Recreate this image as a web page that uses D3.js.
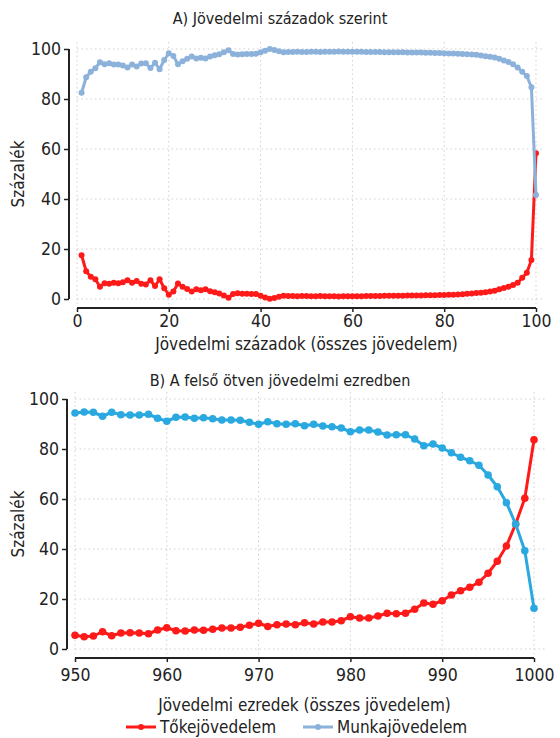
<!DOCTYPE html>
<html>
<head>
<meta charset="utf-8">
<script src="https://cdn.jsdelivr.net/npm/d3@7"></script>
<style>
  body { margin: 0; background: #fff; }
  svg text { font-family: "DejaVu Sans Condensed", "DejaVu Sans", sans-serif; font-stretch: condensed; fill: #222; }
</style>
</head>
<body>
<div id="chart"></div>
<script>
// A) percentiles 1..100
var topPercentiles = d3.range(1, 101);
var topCapital = [
  17.5, 11.1, 8.9, 7.9, 4.9, 6.3, 6.1, 6.5, 6.3, 6.7,
  7.5, 6.5, 7.2, 6.1, 5.8, 7.5, 5.2, 7.9, 4.3, 1.7,
  3.0, 6.2, 4.9, 4.0, 3.0, 3.9, 3.5, 3.9, 3.1, 2.7,
  2.2, 1.4, 0.5, 2.0, 2.3, 2.1, 2.1, 2.0, 2.0, 1.3,
  0.6, 0.1, 0.4, 0.9, 1.3, 1.2, 1.2, 1.1, 1.2, 1.2,
  1.1, 1.1, 1.2, 1.1, 1.1, 1.1, 1.0, 1.1, 1.1, 1.1,
  1.1, 1.1, 1.2, 1.2, 1.2, 1.2, 1.3, 1.3, 1.3, 1.3,
  1.3, 1.4, 1.4, 1.4, 1.4, 1.5, 1.5, 1.5, 1.6, 1.6,
  1.7, 1.7, 1.8, 1.9, 2.1, 2.2, 2.4, 2.5, 2.7, 3.0,
  3.3, 3.9, 4.4, 4.9, 5.6, 6.5, 8.5, 10.5, 15.6, 58.3
];
var topLabor = [
  82.5, 88.7, 90.9, 92.3, 94.7, 93.9, 94.3, 93.8, 93.8, 93.4,
  92.6, 93.8, 93.0, 94.2, 94.3, 92.4, 94.5, 91.9, 95.6, 98.3,
  97.2, 93.9, 95.1, 96.1, 97.0, 96.2, 96.5, 96.2, 97.0, 97.5,
  97.9, 98.7, 99.5, 98.0, 97.8, 97.9, 98.0, 98.0, 98.1, 98.7,
  99.3, 100.0, 99.6, 99.1, 98.7, 98.8, 98.8, 98.9, 98.8, 98.8,
  98.9, 98.9, 98.8, 98.9, 98.9, 98.9, 99.0, 98.9, 98.9, 98.9,
  98.9, 98.9, 98.8, 98.8, 98.8, 98.8, 98.7, 98.7, 98.7, 98.7,
  98.7, 98.6, 98.6, 98.6, 98.6, 98.5, 98.5, 98.4, 98.4, 98.3,
  98.2, 98.2, 98.1, 98.0, 97.9, 97.8, 97.7, 97.4, 97.1, 96.9,
  96.6, 96.1, 95.4, 94.8, 93.9, 92.6, 90.9, 89.2, 84.7, 41.6
];

// B) permilles 950..1000
var bottomPermilles = d3.range(950, 1001);
var bottomCapital = [
  5.5, 4.9, 5.2, 6.9, 5.3, 6.4, 6.5, 6.4, 6.1, 7.6,
  8.5, 7.3, 7.2, 7.6, 7.5, 7.9, 8.4, 8.4, 8.7, 9.5,
  10.3, 9.0, 9.7, 10.0, 9.7, 10.5, 10.0, 10.8, 10.8, 11.3,
  12.9, 12.4, 12.4, 13.2, 14.3, 14.1, 14.3, 15.9, 18.4, 17.9,
  19.3, 21.6, 23.3, 24.7, 26.7, 30.3, 35.1, 41.2, 50.0, 60.3,
  83.7
];
var bottomLabor = [
  94.4, 94.8, 94.7, 93.1, 94.7, 93.7, 93.6, 93.6, 93.9, 92.3,
  91.1, 92.7, 92.8, 92.3, 92.5, 92.1, 91.6, 91.6, 91.5, 90.7,
  89.9, 90.9, 90.1, 89.9, 90.1, 89.3, 89.9, 89.2, 88.9, 88.4,
  86.9, 87.6, 87.6, 86.8, 85.6, 85.7, 85.7, 84.0, 81.3, 82.0,
  80.4, 78.5, 76.7, 75.3, 73.5, 69.6, 64.9, 58.5, 50.0, 39.3,
  16.3
];

var topXTicks = [0, 20, 40, 60, 80, 100];
var bottomXTicks = [950, 960, 970, 980, 990, 1000];
var yTicks = [0, 20, 40, 60, 80, 100];

var seriesNames = ["Tőkejövedelem", "Munkajövedelem"];
var red = "#ff1a1a";
var steel = "#8cb1da";
var sky = "#2aa8e0";

var svgWidth = 560;
var svgHeight = 738;

var svg = d3.select("#chart")
  .append("svg")
  .attr("width", svgWidth)
  .attr("height", svgHeight);

function drawPanel(p) {
  var x = d3.scaleLinear().domain(p.xDomain).range(p.xRange);
  var y = d3.scaleLinear().domain([0, 100]).range(p.yRange);
  var g = svg.append("g");

  // dotted grid
  g.selectAll(".hgrid")
    .data(yTicks)
    .enter()
    .append("line")
    .attr("x1", p.xRange[0])
    .attr("x2", p.gridRight)
    .attr("y1", d => y(d))
    .attr("y2", d => y(d))
    .attr("stroke", "#cfcfcf")
    .attr("stroke-width", 1)
    .attr("stroke-dasharray", "1.5,3");

  g.selectAll(".vgrid")
    .data(p.xTicks)
    .enter()
    .append("line")
    .attr("x1", d => x(d))
    .attr("x2", d => x(d))
    .attr("y1", p.gridTop)
    .attr("y2", p.gridBottom)
    .attr("stroke", "#cfcfcf")
    .attr("stroke-width", 1)
    .attr("stroke-dasharray", "1.5,3");

  // axes
  var leftAxis = d3.axisLeft(y).tickValues(yTicks).tickSize(5).tickPadding(3);
  var yAxis = g.append("g")
    .attr("transform", `translate(${p.yAxisX}, 0)`)
    .call(leftAxis);

  var bottomAxis = d3.axisBottom(x)
    .tickValues(p.xTicks)
    .tickFormat(d3.format("d"))
    .tickSize(4)
    .tickPadding(p.xPad);
  var xAxis = g.append("g")
    .attr("transform", `translate(0, ${p.xAxisY})`)
    .call(bottomAxis);

  [yAxis, xAxis].forEach(function (a) {
    a.select(".domain").attr("stroke", "#222").attr("stroke-width", 2);
    a.selectAll(".tick line").attr("stroke", "#222").attr("stroke-width", 1.5);
    a.selectAll(".tick text")
      .style("font-size", "17.5px")
      .attr("fill", "#222");
  });
  // R style axes: no outer end ticks
  yAxis.select(".domain").attr("d", `M0,${y(100)}V${y(0)}`);
  xAxis.select(".domain").attr("d", `M${x(p.xTicks[0])},0H${x(p.xTicks[p.xTicks.length - 1])}`);

  // series
  p.series.forEach(function (s) {
    var line = d3.line()
      .x((d, i) => x(p.xValues[i]))
      .y(d => y(d));

    g.append("path")
      .datum(s.values)
      .attr("fill", "none")
      .attr("stroke", s.color)
      .attr("stroke-width", 3)
      .attr("stroke-linejoin", "round")
      .attr("d", line);

    g.selectAll(null)
      .data(s.values)
      .enter()
      .append("circle")
      .attr("cx", (d, i) => x(p.xValues[i]))
      .attr("cy", d => y(d))
      .attr("r", p.r)
      .attr("fill", s.color);
  });

  // titles
  svg.append("text")
    .attr("x", 280)
    .attr("y", p.titleY)
    .attr("text-anchor", "middle")
    .style("font-size", "16px")
    .text(p.title);

  svg.append("text")
    .attr("x", (p.xRange[0] + p.xRange[1]) / 2)
    .attr("y", p.xLabelY)
    .attr("text-anchor", "middle")
    .style("font-size", "17px")
    .text(p.xLabel);

  svg.append("text")
    .attr("transform", `translate(24, ${(p.yRange[0] + p.yRange[1]) / 2}) rotate(-90)`)
    .attr("text-anchor", "middle")
    .style("font-size", "17px")
    .text("Százalék");
}

drawPanel({
  title: "A) Jövedelmi századok szerint",
  xLabel: "Jövedelmi századok (összes jövedelem)",
  xDomain: [0, 100],
  xRange: [77, 536],
  yRange: [299, 49],
  xTicks: topXTicks,
  xValues: topPercentiles,
  yAxisX: 69,
  xAxisY: 308,
  xPad: 3,
  gridRight: 545,
  gridTop: 42,
  gridBottom: 304,
  titleY: 24,
  xLabelY: 350,
  r: 3,
  series: [
    { values: topCapital, color: red },
    { values: topLabor, color: steel }
  ]
});

drawPanel({
  title: "B) A felső ötven jövedelmi ezredben",
  xLabel: "Jövedelmi ezredek (összes jövedelem)",
  xDomain: [950, 1000],
  xRange: [75, 534],
  yRange: [649, 399],
  xTicks: bottomXTicks,
  xValues: bottomPermilles,
  yAxisX: 67,
  xAxisY: 658,
  xPad: 7,
  gridRight: 545,
  gridTop: 392,
  gridBottom: 654,
  titleY: 386,
  xLabelY: 711,
  r: 3.8,
  series: [
    { values: bottomCapital, color: red },
    { values: bottomLabor, color: sky }
  ]
});

// legend
var legendItems = [
  { name: seriesNames[0], color: red, x: 126 },
  { name: seriesNames[1], color: steel, x: 303 }
];
var legend = svg.append("g").attr("transform", "translate(0, 727)");
legendItems.forEach(function (item) {
  legend.append("line")
    .attr("x1", item.x)
    .attr("x2", item.x + 30)
    .attr("y1", 0)
    .attr("y2", 0)
    .attr("stroke", item.color)
    .attr("stroke-width", 3);
  legend.append("circle")
    .attr("cx", item.x + 15)
    .attr("cy", 0)
    .attr("r", 3)
    .attr("fill", item.color);
  legend.append("text")
    .attr("x", item.x + 34)
    .attr("y", 6)
    .style("font-size", "17px")
    .text(item.name);
});
</script>
</body>
</html>
